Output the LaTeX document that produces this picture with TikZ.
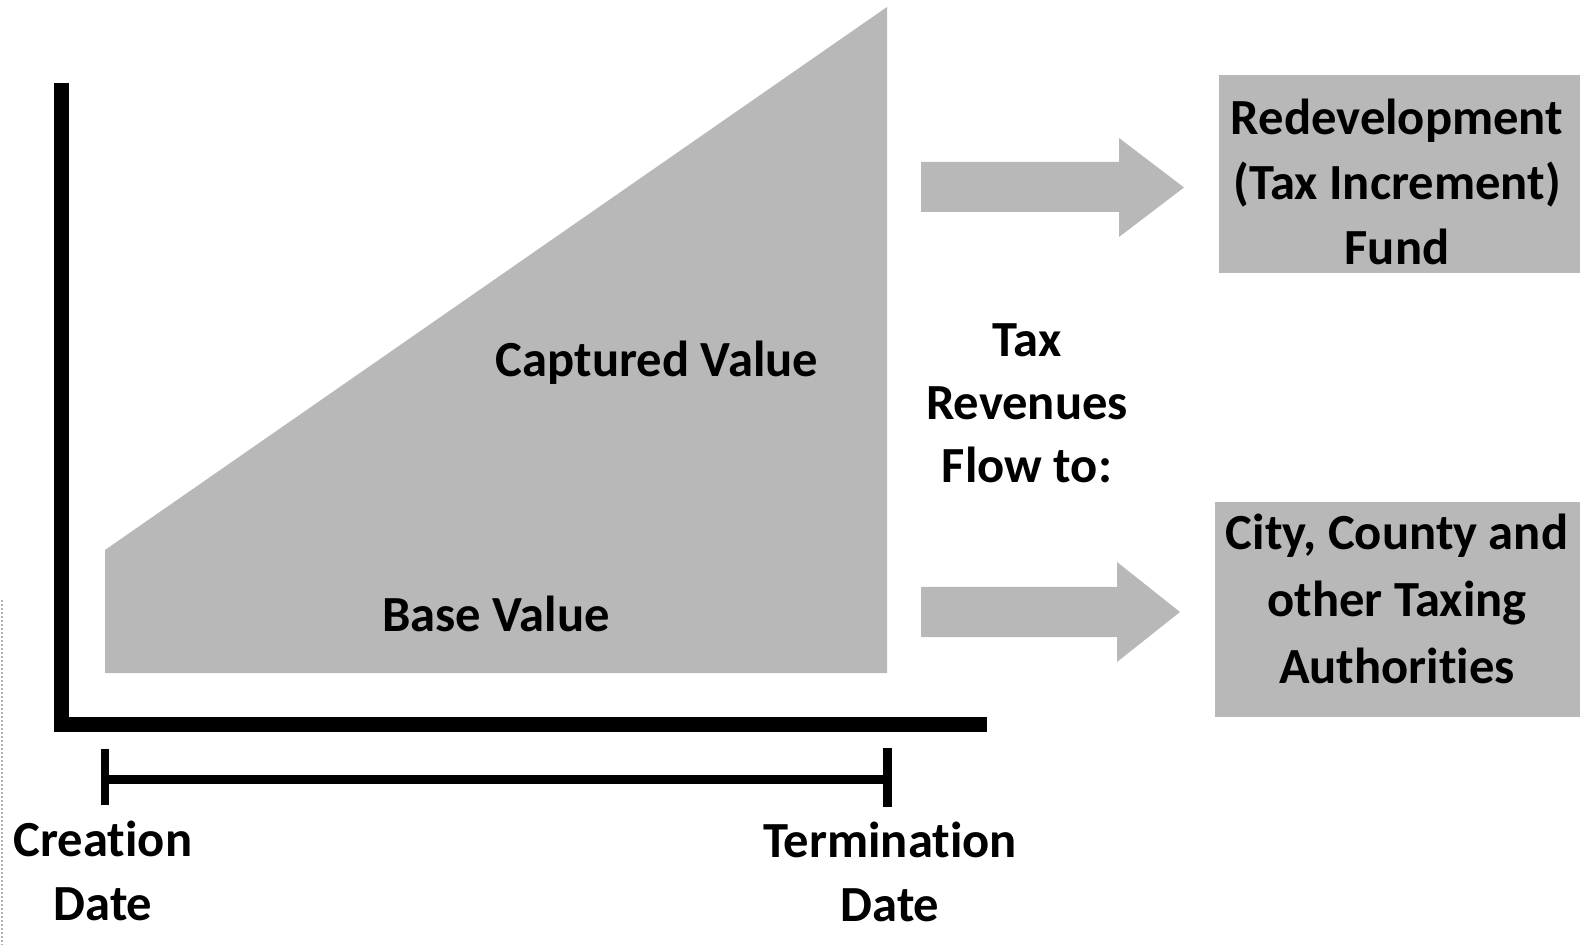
\documentclass[tikz,border=0pt]{standalone}
\usepackage{fontspec}
\setmainfont{Carlito}[Ligatures=NoCommon]
\definecolor{halftone}{gray}{0.72}
\begin{document}
\begin{tikzpicture}[x=0.5pt,y=-0.5pt,
  lbl/.style={font=\fontsize{25.3}{32}\selectfont\bfseries, inner sep=0pt, align=center},
  shade/.style={fill=halftone, draw=none},
  axisline/.style={line width=7.5pt, miter limit=10, line join=miter},
  tickline/.style={line width=4.2pt}]
\useasboundingbox (0,0) rectangle (1583,945);
% scan artifact at left edge
\draw[gray!60, line width=1pt, densely dotted] (1.5,600) -- (1.5,945);
% shaded value area
\path[shade] (105,673) -- (105,550) -- (887,7) -- (887,673) -- cycle;
% axes
\coordinate (ytop) at (61.5,83);
\coordinate (orig) at (61.5,724.5);
\coordinate (xend) at (987,724.5);
\draw[axisline] (ytop) -- (orig) -- (xend);
% time bracket
\coordinate (c1) at (105,749);
\coordinate (c2) at (105,805);
\coordinate (t1) at (887.5,748);
\coordinate (t2) at (887.5,807);
\coordinate (cm) at (105,779);
\coordinate (tm) at (887.5,779);
\draw[tickline] (c1) -- (c2);
\draw[tickline] (t1) -- (t2);
\draw[line width=4.5pt] (cm) -- (tm);
% arrows
\path[shade] (921,162) -- (1119,162) -- (1119,138) -- (1184,187.5) -- (1119,237) -- (1119,212) -- (921,212) -- cycle;
\path[shade] (921,587) -- (1117,587) -- (1117,562) -- (1180,612) -- (1117,662) -- (1117,637) -- (921,637) -- cycle;
% boxes
\node[shade, minimum width=361*0.5pt, minimum height=198*0.5pt, inner sep=0pt] (fund) at (1399.5,174) {};
\node[shade, minimum width=365*0.5pt, minimum height=215*0.5pt, inner sep=0pt] (auth) at (1397.5,609.5) {};
% texts (anchor=base sits on the last line's baseline)
\node[lbl, anchor=base] (cap) at (657,377) {Captured Value};
\node[lbl, anchor=base] (base) at (496,632) {Base Value};
\node[lbl, anchor=base, font=\fontsize{25.3}{31.5}\selectfont\bfseries] (tax) at (1027,483) {Tax\\Revenues\\Flow to:};
\node[lbl, anchor=base] (cre) at (103,920) {Creation\\Date};
\node[lbl, anchor=base] (ter) at (890,921) {Termination\\Date};
\node[lbl, anchor=base, font=\fontsize{25.3}{32.5}\selectfont\bfseries] (fundtxt) at (1397,265) {Redevelopment\\(Tax Increment)\\Fund};
\node[lbl, anchor=base, font=\fontsize{25.3}{33.5}\selectfont\bfseries] (authtxt) at (1397,683) {City, County and\\other Taxing\\Authorities};
\end{tikzpicture}
\end{document}
